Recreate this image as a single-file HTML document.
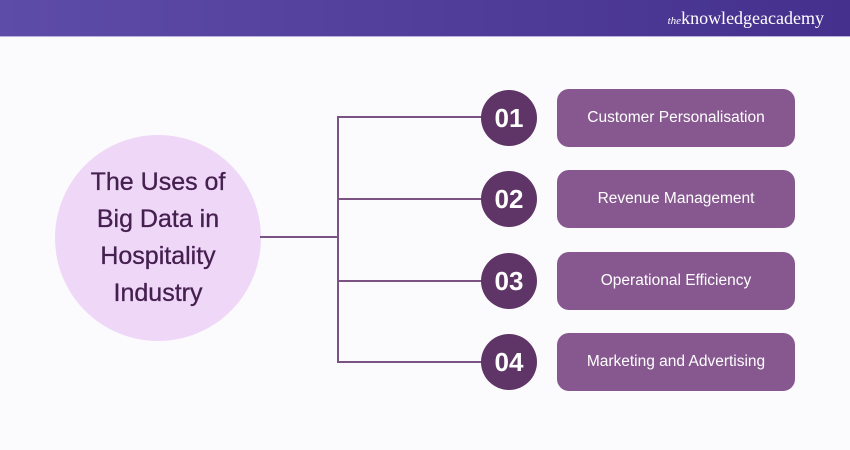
<!DOCTYPE html>
<html><head><style>
body{margin:0;width:850px;height:450px;background:#fbfafc;font-family:"Liberation Sans",sans-serif;position:relative;overflow:hidden}
.hdr{position:absolute;left:0;top:0;width:850px;height:36px;background:linear-gradient(90deg,#5d4ca8,#45308d);border-bottom:1px solid #b9b0d9}
.logo{position:absolute;right:26px;top:8px;color:#fff;font-family:"Liberation Serif",serif;font-size:18px}
.logo i{font-size:11px}
.c{position:absolute;left:55px;top:135px;width:206px;height:206px;border-radius:50%;background:#efd7f8;display:flex;align-items:center;justify-content:center;text-align:center;color:#45204f;font-size:25px;line-height:37px;-webkit-text-stroke:0.3px #45204f}
.n{position:absolute;left:481px;width:56px;height:56px;border-radius:50%;background:#5e3566;color:#fff;font-size:26px;font-weight:bold;display:flex;align-items:center;justify-content:center}
.b{position:absolute;left:557px;width:238px;height:58px;border-radius:12px;background:#86588f;color:#fff;font-size:15.5px;display:flex;align-items:center;justify-content:center}
.l{position:absolute;background:#7a5384}
</style></head><body>
<div class="hdr"><div class="logo"><i>the</i>knowledgeacademy</div></div>
<div class="c">The Uses of<br>Big Data in<br>Hospitality<br>Industry</div>
<div class="l" style="left:260px;top:236px;width:78px;height:2px"></div>
<div class="l" style="left:337px;top:116px;width:2px;height:247px"></div>
<div class="l" style="left:337px;top:116px;width:145px;height:2px"></div>
<div class="l" style="left:337px;top:198px;width:145px;height:2px"></div>
<div class="l" style="left:337px;top:280px;width:145px;height:2px"></div>
<div class="l" style="left:337px;top:361px;width:145px;height:2px"></div>
<div class="n" style="top:90px">01</div>
<div class="n" style="top:171px">02</div>
<div class="n" style="top:253px">03</div>
<div class="n" style="top:334px">04</div>
<div class="b" style="top:89px">Customer Personalisation</div>
<div class="b" style="top:170px">Revenue Management</div>
<div class="b" style="top:252px">Operational Efficiency</div>
<div class="b" style="top:333px">Marketing and Advertising</div>
</body></html>
